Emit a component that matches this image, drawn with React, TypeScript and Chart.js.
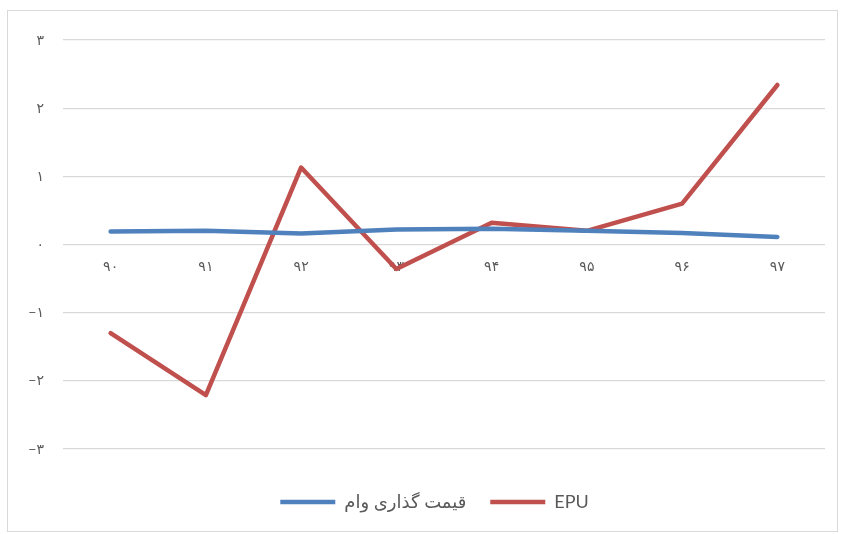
import React, { useEffect, useRef } from "react";
import { Chart, registerables } from "chart.js";

Chart.register(...registerables);

const categories = ["۹۰", "۹۱", "۹۲", "۹۳", "۹۴", "۹۵", "۹۶", "۹۷"];
const loanPricing = [0.19, 0.2, 0.16, 0.22, 0.23, 0.2, 0.17, 0.11];
const epu = [-1.3, -2.21, 1.13, -0.36, 0.32, 0.2, 0.6, 2.34];
const yTickLabels: Record<string, string> = {
  "3": "۳",
  "2": "۲",
  "1": "۱",
  "0": "۰",
  "-1": "−۱",
  "-2": "−۲",
  "-3": "−۳",
};
const seriesNames = ["قیمت گذاری وام", "EPU"];

const FONT = '"Lato", "DejaVu Sans", sans-serif';

const borderPlugin = {
  id: "outerBorder",
  beforeDraw(chart: any) {
    const ctx = chart.ctx;
    ctx.save();
    ctx.fillStyle = "#ffffff";
    ctx.fillRect(0, 0, chart.width, chart.height);
    ctx.strokeStyle = "#d9d9d9";
    ctx.lineWidth = 1;
    ctx.strokeRect(7.5, 10.5, 830, 521);
    ctx.restore();
  },
};

const legendShiftPlugin = {
  id: "legendShift",
  afterLayout(chart: any) {
    const lg = chart.legend;
    if (!lg) return;
    lg.top += 20;
    lg.bottom += 20;
    lg.left += 22;
    lg.right += 22;
  },
};

export default function App() {
  const ref = useRef<HTMLCanvasElement | null>(null);
  useEffect(() => {
    if (!ref.current) return;
    const chart = new Chart(ref.current, {
      type: "line",
      data: {
        labels: categories,
        datasets: [
          {
            label: seriesNames[0],
            data: loanPricing,
            borderColor: "#4f81bd",
            backgroundColor: "#4f81bd",
            borderWidth: 4.5,
            borderCapStyle: "round",
            borderJoinStyle: "round",
            pointRadius: 0,
            tension: 0,
          },
          {
            label: seriesNames[1],
            data: epu,
            borderColor: "#c0504d",
            backgroundColor: "#c0504d",
            borderWidth: 4.5,
            borderCapStyle: "round",
            borderJoinStyle: "round",
            pointRadius: 0,
            tension: 0,
          },
        ],
      },
      options: {
        animation: false,
        responsive: false,
        maintainAspectRatio: false,
        layout: { padding: { left: 0, right: 20, top: 40, bottom: 33 } },
        plugins: {
          tooltip: { enabled: false },
          legend: {
            position: "bottom",
            labels: {
              usePointStyle: true,
              pointStyle: "line",
              pointStyleWidth: 55,
              color: "#595959",
              font: { family: FONT, size: 18 },
              padding: 24,
            },
          },
        },
        scales: {
          x: {
            position: { y: 0 },
            offset: true,
            grid: { display: false, drawTicks: false },
            border: { display: false },
            ticks: {
              color: "#595959",
              font: { family: FONT, size: 14 },
              padding: 14,
              maxRotation: 0,
            },
          },
          y: {
            min: -3,
            max: 3,
            afterFit(scale: any) {
              scale.width = 63;
            },
            grid: { color: "#d9d9d9", lineWidth: 1.3, drawTicks: false },
            border: { display: false },
            ticks: {
              stepSize: 1,
              color: "#595959",
              font: { family: FONT, size: 14 },
              padding: 19,
              callback: (v: any) => yTickLabels[String(v)] ?? String(v),
            },
          },
        },
      },
      plugins: [borderPlugin, legendShiftPlugin],
    } as any);
    return () => chart.destroy();
  }, []);
  return (
    <div style={{ position: "fixed", left: 0, top: 0, width: 845, height: 534 }}>
      <canvas ref={ref} width={845} height={534} style={{ display: "block" }} />
    </div>
  );
}
